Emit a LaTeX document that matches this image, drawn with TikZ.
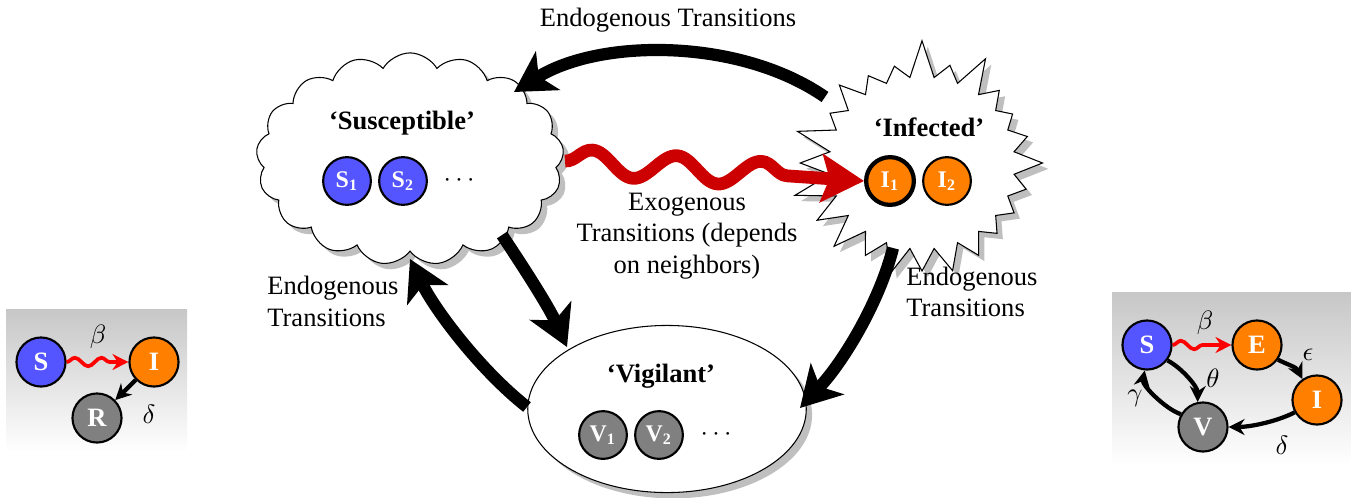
\documentclass[tikz,border=0pt]{standalone}
\usepackage{fontspec}
\setmainfont{Liberation Serif}
\usetikzlibrary{shapes.symbols,shapes.geometric,shadows,arrows.meta,decorations.pathmorphing}
\definecolor{sblue}{RGB}{85,85,255}
\definecolor{iorange}{RGB}{255,128,0}
\definecolor{vgray}{RGB}{128,128,128}
\definecolor{exred}{RGB}{204,0,0}
\definecolor{minired}{RGB}{255,0,0}
\begin{document}
\begin{tikzpicture}[x=0.377pt,y=-0.377pt,
  stateshadow/.style={drop shadow={shadow xshift=2.2pt,shadow yshift=-2.2pt,fill=black!25,opacity=1}},
  agent/.style={circle,draw=black,line width=0.8pt,minimum size=18pt,inner sep=0pt,text=white,font=\small},
  bigarrow/.style={line width=4.6pt,-{Stealth[length=15pt,width=17pt,inset=4pt]}},
  exoarrow/.style={exred,line width=4.8pt,decorate,decoration={snake,amplitude=4.8pt,segment length=32pt,post length=26pt},-{Stealth[length=16pt,width=18pt,inset=3pt]}},
  lbl/.style={align=left,anchor=west},
  mini/.style={circle,draw=black,line width=0.8pt,minimum size=18.5pt,inner sep=0pt,text=white,font=\bfseries},
  miniarrow/.style={line width=1.6pt,-{Stealth[length=6pt,width=6pt]}},
  miniexo/.style={minired,line width=1.4pt,decorate,decoration={snake,amplitude=1.6pt,segment length=10pt,post length=6pt},-{Stealth[length=6pt,width=6pt]}},
  panel/.style={top color=black!22,bottom color=white,draw=none}
]
\useasboundingbox (0,0) rectangle (1351,497);

% big state shapes
\node[cloud,cloud puffs=17,cloud puff arc=120,cloud ignores aspect,draw,fill=white,minimum width=116pt,minimum height=80pt,stateshadow] (sus) at (410,159) {};
\node[starburst,starburst points=24,starburst point height=15pt,random starburst=7,draw,fill=white,minimum width=100pt,minimum height=95pt,stateshadow] (inf) at (922,163) {};
\node[ellipse,draw,fill=white,minimum width=105pt,minimum height=63pt,stateshadow] (vig) at (667,409) {};

% state labels
\node[font=\bfseries] (suslbl) at (402,123) {‘Susceptible’};
\node[font=\bfseries] (inflbl) at (929,127) {‘Infected’};
\node[font=\bfseries] (viglbl) at (661,376) {‘Vigilant’};

% agents
\node[agent,fill=sblue] (s1) at (347,181) {$\mathbf{S_1}$};
\node[agent,fill=sblue] (s2) at (403,181) {$\mathbf{S_2}$};
\node (sdots) at (459,181) {$\cdots$};
\node[agent,fill=iorange,line width=1.6pt] (i1) at (890,181) {$\mathbf{I_1}$};
\node[agent,fill=iorange] (i2) at (947,181) {$\mathbf{I_2}$};
\node[agent,fill=vgray] (v1) at (603,435) {$\mathbf{V_1}$};
\node[agent,fill=vgray] (v2) at (659,435) {$\mathbf{V_2}$};
\node (vdots) at (716,435) {$\cdots$};

% connector end points
\coordinate (a1s) at (825,97);
\coordinate (a1e) at (514,92);
\coordinate (a2s) at (502,235);
\coordinate (a2e) at (567,347);
\coordinate (a3s) at (527,407);
\coordinate (a3e) at (410,259);
\coordinate (a4s) at (893,248);
\coordinate (a4e) at (800,408);
\coordinate (exs) at (565,161);

\draw[bigarrow] (a1s) .. controls (740,38) and (600,38) .. (a1e);
\draw[bigarrow] (a2s) .. controls (520,262) and (548,305) .. (a2e);
\draw[bigarrow] (a3s) .. controls (480,370) and (435,310) .. (a3e);
\draw[bigarrow] (a4s) .. controls (880,300) and (845,360) .. (a4e);
\draw[exoarrow] (exs) -- (i1.west);

% transition labels
\node (toplbl) at (668,20) {Endogenous Transitions};
\node[lbl] (leftlbl) at (258,301) {Endogenous\\Transitions};
\node[lbl] (rightlbl) at (897,292) {Endogenous\\Transitions};
\node[align=center] (exolbl) at (687,236) {Exogenous\\Transitions (depends\\on neighbors)};

% left mini SIR
\path[panel] (6,309) rectangle (187,452);
\node[mini,fill=sblue] (ls) at (41,362) {S};
\node[mini,fill=iorange] (li) at (154,362) {I};
\node[mini,fill=vgray] (lr) at (97,418) {R};
\draw[miniexo] (ls) -- (li);
\draw[miniarrow] (li) -- (lr);
\node (lb) at (98,337) {$\beta$};
\node (ld) at (149,414) {$\delta$};

% right mini SEIV
\path[panel] (1112,292) rectangle (1351,465);
\node[mini,fill=sblue] (rs) at (1147,345) {S};
\node[mini,fill=iorange] (re) at (1257,345) {E};
\node[mini,fill=iorange] (ri) at (1317,400) {I};
\node[mini,fill=vgray] (rv) at (1203,427) {V};
\draw[miniexo] (rs) -- (re);
\draw[miniarrow] (re.-35) .. controls +(12,6) and +(-6,-12) .. (ri.125);
\draw[miniarrow] (ri.209) .. controls +(-20,10) and +(20,0) .. (rv.east);
\draw[miniarrow] (rs.-37) .. controls +(15,8) and +(0,-15) .. (rv.102);
\draw[miniarrow] (rv.150) .. controls +(-15,-5) and +(-3,15) .. (rs.-95);
\node (rb) at (1205,323) {$\beta$};
\node (rep) at (1308,355) {$\epsilon$};
\node (rth) at (1213,378) {$\theta$};
\node (rga) at (1135,398) {$\gamma$};
\node (rde) at (1282,445) {$\delta$};
\end{tikzpicture}
\end{document}
